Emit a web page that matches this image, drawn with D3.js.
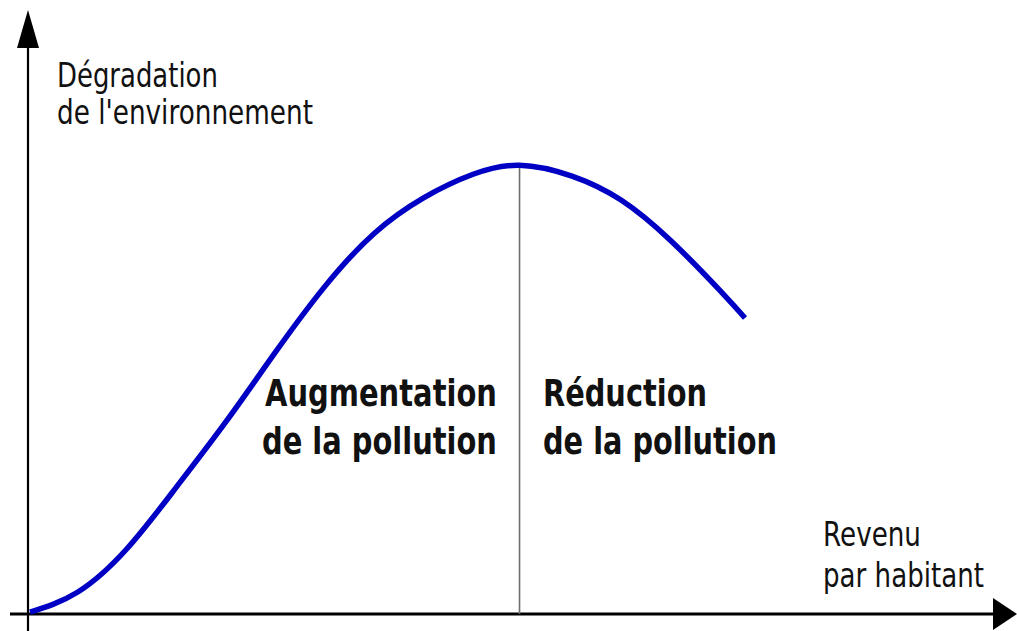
<!DOCTYPE html>
<html>
<head>
<meta charset="utf-8">
<script src="https://cdn.jsdelivr.net/npm/d3@7"></script>
<style>
  html, body { margin: 0; padding: 0; background: #fff; }
  svg { display: block; }
</style>
</head>
<body>
<div id="chart"></div>
<script>
// income per capita (arbitrary units 0..10) and environmental degradation (0..10)
const income      = [0.02, 0.5, 1.0, 1.5, 2.0, 2.5, 3.0, 3.5, 4.0, 4.5, 4.97, 5.5, 6.0, 6.5, 7.0, 7.25];
const degradation = [0.03, 0.36, 1.08, 2.10, 3.18, 4.33, 5.42, 6.30, 6.89, 7.28, 7.43, 7.25, 6.85, 6.18, 5.35, 4.90];
const peakIndex = 10;

const yLabel = ["Dégradation", "de l'environnement"];
const xLabel = ["Revenu", "par habitant"];
const leftLabel = ["Augmentation", "de la pollution"];
const rightLabel = ["Réduction", "de la pollution"];

const width = 1017, height = 631;

const svg = d3.select("#chart").append("svg")
  .attr("width", width)
  .attr("height", height);

const x = d3.scaleLinear().domain([0, 10]).range([28, 1017]);
const y = d3.scaleLinear().domain([0, 10]).range([614, 10]);

// axes
svg.append("line")
  .attr("x1", x(0)).attr("x2", x(0))
  .attr("y1", height).attr("y2", 40)
  .attr("stroke", "#000").attr("stroke-width", 2.2);
svg.append("path")
  .attr("d", `M${x(0)},${y(10)} L${x(0) + 11},${y(10) + 38} L${x(0) - 11},${y(10) + 38} Z`)
  .attr("fill", "#000");

svg.append("line")
  .attr("x1", 10).attr("x2", 1000)
  .attr("y1", y(0)).attr("y2", y(0))
  .attr("stroke", "#000").attr("stroke-width", 2.8);
svg.append("path")
  .attr("d", `M${x(10)},${y(0)} L${x(10) - 24},${y(0) - 16} L${x(10) - 24},${y(0) + 16} Z`)
  .attr("fill", "#000");

// vertical separator at the peak
svg.append("line")
  .attr("x1", x(income[peakIndex])).attr("x2", x(income[peakIndex]))
  .attr("y1", y(degradation[peakIndex])).attr("y2", y(0))
  .attr("stroke", "#6e6e6e").attr("stroke-width", 1.6);

// curve
const pts = income.map((d, i) => [d, degradation[i]]);
const line = d3.line()
  .x(d => x(d[0]))
  .y(d => y(d[1]))
  .curve(d3.curveNatural);

svg.append("path")
  .datum(pts)
  .attr("d", line)
  .attr("fill", "none")
  .attr("stroke", "#0000c4")
  .attr("stroke-width", 5.5)
  .attr("stroke-linecap", "butt");

// text, squeezed horizontally like the original drawing
function label(txt, px, py, size, w, bold) {
  const t = svg.append("text")
    .attr("font-family", "'DejaVu Sans', sans-serif")
    .attr("font-size", size)
    .attr("font-weight", bold ? "bold" : "normal")
    .attr("fill", "#111")
    .text(txt);
  const len = t.node().getComputedTextLength();
  t.attr("transform", `translate(${px},${py}) scale(${w / len},1)`);
}

label(yLabel[0], 57, 87, 33, 161, false);
label(yLabel[1], 57, 124, 33, 256, false);
label(xLabel[0], 823, 546, 33, 98, false);
label(xLabel[1], 823, 587, 33, 161, false);
label(leftLabel[0], 265, 406, 38, 232, true);
label(leftLabel[1], 262, 454, 38, 235, true);
label(rightLabel[0], 543, 406, 38, 164, true);
label(rightLabel[1], 543, 454, 38, 234, true);
</script>
</body>
</html>
